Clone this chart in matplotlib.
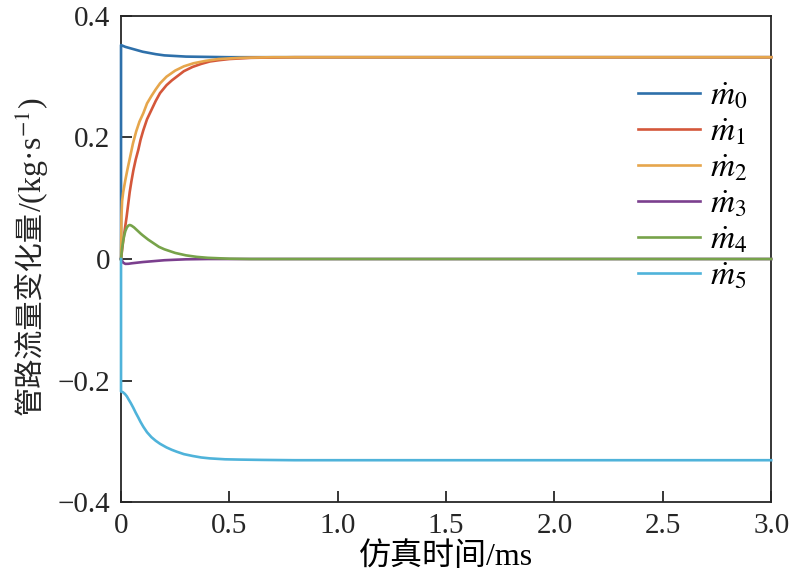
import matplotlib
matplotlib.use('Agg')
import matplotlib.pyplot as plt

plt.rcParams['font.family'] = ['Liberation Serif', 'Noto Sans CJK SC', 'DejaVu Serif']
plt.rcParams['mathtext.fontset'] = 'stix'

# values (time in ms)
t_m0 = [0, 0, 0.02, 0.05, 0.08, 0.1, 0.13, 0.16, 0.2, 0.25, 0.3, 0.4, 0.5, 0.7, 3.0]
m0 = [0, 0.352, 0.349, 0.346, 0.343, 0.341, 0.339, 0.337, 0.335, 0.334, 0.333, 0.3325, 0.332, 0.332, 0.332]

t_m1 = [0, 0.005, 0.01, 0.018, 0.026, 0.033, 0.04, 0.048, 0.057, 0.068, 0.08, 0.09, 0.103, 0.12, 0.14, 0.16,
        0.18, 0.21, 0.235, 0.257, 0.29, 0.33, 0.37, 0.41, 0.45, 0.5, 0.55, 0.6, 0.7, 0.8, 3.0]
m1 = [0, 0.015, 0.03, 0.05, 0.07, 0.09, 0.11, 0.128, 0.146, 0.164, 0.18, 0.196, 0.212, 0.23, 0.245, 0.26,
      0.273, 0.286, 0.294, 0.30, 0.309, 0.316, 0.321, 0.325, 0.327, 0.329, 0.330, 0.331, 0.3315, 0.332, 0.332]

t_m2 = [0, 0.002, 0.005, 0.01, 0.015, 0.02, 0.03, 0.042, 0.055, 0.07, 0.085, 0.103, 0.12, 0.14, 0.16, 0.18,
        0.21, 0.25, 0.29, 0.334, 0.39, 0.45, 0.55, 0.7, 3.0]
m2 = [0, 0.07, 0.095, 0.11, 0.12, 0.13, 0.148, 0.168, 0.19, 0.21, 0.226, 0.24, 0.256, 0.268, 0.279, 0.289,
      0.30, 0.31, 0.317, 0.322, 0.326, 0.329, 0.331, 0.332, 0.332]

t_m3 = [0, 0.01, 0.02, 0.035, 0.05, 0.075, 0.1, 0.15, 0.2, 0.25, 0.3, 0.4, 3.0]
m3 = [0, -0.006, -0.008, -0.0078, -0.007, -0.006, -0.005, -0.0035, -0.002, -0.0012, -0.0005, 0, 0]

t_m4 = [0, 0.005, 0.01, 0.015, 0.02, 0.027, 0.034, 0.04, 0.048, 0.06, 0.075, 0.09, 0.1, 0.125, 0.15, 0.175,
        0.2, 0.25, 0.3, 0.35, 0.4, 0.5, 0.6, 3.0]
m4 = [0, 0.018, 0.03, 0.039, 0.046, 0.052, 0.055, 0.056, 0.055, 0.052, 0.047, 0.042, 0.039, 0.032, 0.026, 0.02,
      0.016, 0.01, 0.006, 0.0035, 0.002, 0.0005, 0, 0]

t_m5 = [0, 0, 0.008, 0.018, 0.027, 0.035, 0.045, 0.057, 0.068, 0.08, 0.09, 0.103, 0.12, 0.14, 0.16, 0.18,
        0.21, 0.235, 0.257, 0.29, 0.33, 0.37, 0.41, 0.48, 0.55, 0.65, 0.8, 3.0]
m5 = [0, -0.218, -0.219, -0.222, -0.226, -0.231, -0.237, -0.245, -0.253, -0.261, -0.268, -0.276, -0.285, -0.293,
      -0.299, -0.304, -0.310, -0.314, -0.317, -0.321, -0.324, -0.3265, -0.328, -0.3295, -0.330, -0.3305, -0.331, -0.331]

labels = [r'$\dot{m}_0$', r'$\dot{m}_1$', r'$\dot{m}_2$', r'$\dot{m}_3$', r'$\dot{m}_4$', r'$\dot{m}_5$']
colors = ['#2E70AA', '#D4573A', '#E6A64C', '#7B3F8E', '#77A34A', '#4FB3DA']

xticks = [0, 0.5, 1.0, 1.5, 2.0, 2.5, 3.0]
xticklabels = ['0', '0.5', '1.0', '1.5', '2.0', '2.5', '3.0']
yticks = [-0.4, -0.2, 0, 0.2, 0.4]
yticklabels = ['\u22120.4', '\u22120.2', '0', '0.2', '0.4']

fig = plt.figure(figsize=(7.91, 5.88), dpi=100)
ax = fig.add_axes([0.153, 0.146, 0.822, 0.827])

series = [(t_m0, m0), (t_m1, m1), (t_m2, m2), (t_m3, m3), (t_m4, m4), (t_m5, m5)]
for (t, v), c, lab in zip(series, colors, labels):
    ax.plot(t, v, color=c, lw=1.9, label=lab, clip_on=False, zorder=3)

ax.set_xlim(0, 3)
ax.set_ylim(-0.4, 0.4)
ax.set_xticks(xticks)
ax.set_xticklabels(xticklabels)
ax.set_yticks(yticks)
ax.set_yticklabels(yticklabels)
ax.tick_params(direction='in', length=8, width=1.3, labelsize=21, colors='#262626', pad=8)
for s in ax.spines.values():
    s.set_color('#262626')
    s.set_linewidth(1.3)

ax.set_xlabel('仿真时间/ms', fontsize=23, labelpad=2)

# y label in two pieces so the unit can use a real superscript
ylab_cn = fig.text(0.038, 0.294, '管路流量变化量', rotation=90, ha='center', va='bottom',
                   fontsize=21, family=['Noto Sans CJK SC'], color='#262626')
fig.canvas.draw()
bb = ylab_cn.get_window_extent()
fig.text(0.040, bb.y1 / fig.bbox.height - 0.002, '/(kg·s$^{-1}$)', rotation=90, ha='center', va='bottom',
         fontsize=23, color='#262626')

ax.legend(loc='upper left', bbox_to_anchor=(0.775, 0.893), frameon=False, fontsize=24,
          handlelength=1.86, labelspacing=0.16, handletextpad=0.3, borderaxespad=0)

fig.savefig('out.png', dpi=100)
